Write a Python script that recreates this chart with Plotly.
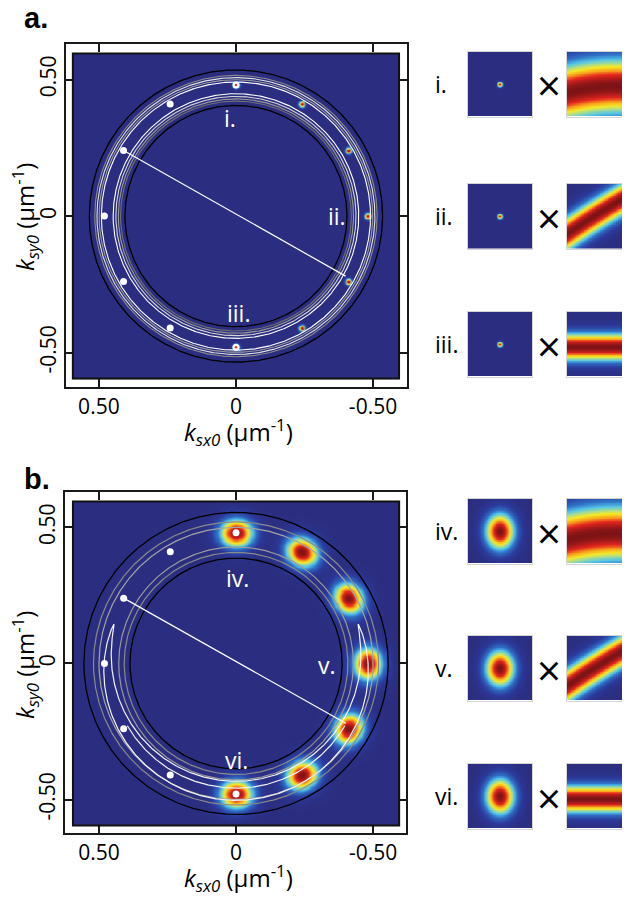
import numpy as np
import plotly.graph_objects as go

W, H = 630, 897
OX, OY = 8, 8          # page body offset of the plot div
def fx(p): return (p - OX) / W
def fy(p): return 1 - (p - OY) / H

FONT = "Open Sans"

# ---------------- data ----------------
tick_vals = [0.5, 0.0, -0.5]
tick_text = ["0.50", "0", "-0.50"]

# white marker positions (k_sx0, k_sy0) in um^-1
dots_x = [0.0, 0.24, 0.41, 0.48, 0.41, 0.24, 0.0]
dots_y = [0.48, 0.41, 0.24, 0.0, -0.24, -0.41, -0.48]
# intensity spot positions
spots_x = [0.0, -0.24, -0.41, -0.48, -0.41, -0.24, 0.0]
spots_y = [0.48, 0.41, 0.24, 0.0, -0.24, -0.41, -0.48]
# chord between markers
chord_x = [0.41, -0.40]
chord_y = [0.24, -0.22]

# ring radii (um^-1)
a_black_r = [0.405, 0.535]
a_ring_r = [0.421, 0.429, 0.438, 0.448, 0.491, 0.499, 0.507, 0.515]
a_ring_c = ["#707070", "#9a9a9a", "#d6d6d6", "#ffffff", "#ffffff", "#9a9a9a", "#e0e0e0", "#8a8a8a"]
b_black_r = [0.387, 0.555]
b_ring_r = [0.408, 0.428, 0.500, 0.520]
b_ring_c = ["#8a8a8a", "#9a9a9a", "#a4a4a4", "#8a8a8a"]

# spot widths
a_spot_sigma = 0.0078
b_spot_sig_rad = 0.037
b_spot_sig_tan = 0.043

# white crescent contour in panel b
cres_theta = [18, -198]
cres_rc = 0.468
cres_hw = 0.035
arc_theta = [-30, -150]
arc_r = 0.458

# in-panel labels
a_lab = ["i.", "ii.", "iii."]
a_lab_x = [0.02, -0.37, -0.01]
a_lab_y = [0.36, 0.0, -0.355]
b_lab = ["iv.", "v.", "vi."]
b_lab_x = [-0.006, -0.33, 0.0]
b_lab_y = [0.313, -0.005, -0.355]

# thumbnails
thumb_lab = ["i.", "ii.", "iii.", "iv.", "v.", "vi."]
thumb_top = [52, 184, 312, 499, 636, 764]
thumb_spot_sx = [0.026, 0.026, 0.026, 0.16, 0.16, 0.16]
thumb_spot_sy = [0.026, 0.026, 0.026, 0.20, 0.20, 0.20]
band_angle = [5, 32, 0, 5, 32, 0]
band_off = [-0.04, 0.05, -0.04, -0.04, 0.05, -0.04]
band_sigma = [0.30, 0.16, 0.15, 0.30, 0.16, 0.15]
band_curv = [0.15, 0.04, 0.0, 0.15, 0.04, 0.0]

# ---------------- colours ----------------
NAVY = "#2b2e80"
cscale = [[0.0, NAVY], [0.1, "#2b3a9c"], [0.25, "#2f70c6"], [0.38, "#52c4e8"],
          [0.5, "#aede8a"], [0.6, "#f6e826"], [0.72, "#f7a01b"], [0.84, "#e4251f"],
          [1.0, "#7d1315"]]

fig = go.Figure()

# ---------------- main heatmaps ----------------
ext = 0.595
Na = 420
ga = np.linspace(-ext, ext, Na)
Xa, Ya = np.meshgrid(ga, ga)
za = np.zeros_like(Xa)
for sx, sy in zip(spots_x, spots_y):
    za += np.exp(-((Xa - sx) ** 2 + (Ya - sy) ** 2) / (2 * a_spot_sigma ** 2))
za = np.clip(za, 0, 1).astype(np.float32)

Nb = 300
gb = np.linspace(-ext, ext, Nb)
Xb, Yb = np.meshgrid(gb, gb)
zb = np.zeros_like(Xb)
for sx, sy in zip(spots_x, spots_y):
    r = np.hypot(sx, sy)
    ex, ey = sx / r, sy / r
    dr = (Xb - sx) * ex + (Yb - sy) * ey
    dt = -(Xb - sx) * ey + (Yb - sy) * ex
    zb += np.exp(-(dr ** 2 / (2 * b_spot_sig_rad ** 2) + dt ** 2 / (2 * b_spot_sig_tan ** 2)))
zb = np.clip(zb, 0, 1).astype(np.float32)

fig.add_trace(go.Heatmap(x=ga, y=ga, z=za, colorscale=cscale, zmin=0, zmax=1,
                         showscale=False, zsmooth="best", xaxis="x", yaxis="y", hoverinfo="skip"))
fig.add_trace(go.Heatmap(x=gb, y=gb, z=zb, colorscale=cscale, zmin=0, zmax=1,
                         showscale=False, zsmooth="best", xaxis="x2", yaxis="y2", hoverinfo="skip"))

th = np.linspace(0, 2 * np.pi, 721)

def ring(r, color, width, xa, ya):
    fig.add_trace(go.Scatter(x=r * np.cos(th), y=r * np.sin(th), mode="lines",
                             line=dict(color=color, width=width), xaxis=xa, yaxis=ya,
                             hoverinfo="skip", showlegend=False))

for r, c in zip(a_ring_r, a_ring_c):
    ring(r, c, 1.1, "x", "y")
for r in a_black_r:
    ring(r, "#000000", 1.3, "x", "y")
for r, c in zip(b_ring_r, b_ring_c):
    ring(r, c, 1.2, "x2", "y2")
for r in b_black_r:
    ring(r, "#000000", 1.3, "x2", "y2")

# crescent in b
t = np.linspace(0, 1, 400)
thc = np.deg2rad(cres_theta[0] + (cres_theta[1] - cres_theta[0]) * t)
hw = cres_hw * np.sin(np.pi * t) ** 0.7
ro = cres_rc + hw
ri = cres_rc - hw
cx = np.concatenate([ro * np.cos(thc), (ri * np.cos(thc))[::-1]])
cy = np.concatenate([ro * np.sin(thc), (ri * np.sin(thc))[::-1]])
fig.add_trace(go.Scatter(x=cx, y=cy, mode="lines", line=dict(color="#f4f4f4", width=1.2),
                         xaxis="x2", yaxis="y2", hoverinfo="skip", showlegend=False))
tha = np.deg2rad(np.linspace(arc_theta[0], arc_theta[1], 200))
fig.add_trace(go.Scatter(x=arc_r * np.cos(tha), y=arc_r * np.sin(tha), mode="lines",
                         line=dict(color="#f4f4f4", width=1.2),
                         xaxis="x2", yaxis="y2", hoverinfo="skip", showlegend=False))

for xa, ya in (("x", "y"), ("x2", "y2")):
    fig.add_trace(go.Scatter(x=chord_x, y=chord_y, mode="lines", line=dict(color="white", width=1.2),
                             xaxis=xa, yaxis=ya, hoverinfo="skip", showlegend=False))
    fig.add_trace(go.Scatter(x=dots_x, y=dots_y, mode="markers",
                             marker=dict(color="white", size=7, line=dict(width=0)),
                             xaxis=xa, yaxis=ya, hoverinfo="skip", showlegend=False))
# red centres on the white top/bottom markers of panel a
fig.add_trace(go.Scatter(x=[dots_x[0], dots_x[-1]], y=[dots_y[0], dots_y[-1]], mode="markers",
                         marker=dict(color="#e0401c", size=2.5, line=dict(width=0)),
                         xaxis="x", yaxis="y", hoverinfo="skip", showlegend=False))

# ---------------- thumbnails ----------------
Nt = 90
gt = np.linspace(-0.5, 0.5, Nt)
U, V = np.meshgrid(gt, gt)
axes_layout = {}
annotations = []
for i in range(6):
    top = thumb_top[i]
    bot = top + 64.5
    zs = np.exp(-(U ** 2 / (2 * thumb_spot_sx[i] ** 2) + V ** 2 / (2 * thumb_spot_sy[i] ** 2)))
    al = np.deg2rad(band_angle[i])
    up = U * np.cos(al) + V * np.sin(al)
    vp = -U * np.sin(al) + V * np.cos(al)
    d = vp - band_off[i] + band_curv[i] * up ** 2
    zband = np.exp(-d ** 2 / (2 * band_sigma[i] ** 2))
    for j, (z, x0, x1, rng) in enumerate(((zs, 467.5, 532, [-0.5, 0.5]),
                                          (zband, 567, 630, [-0.5, 0.477]))):
        n = 3 + 2 * i + j
        xa, ya = f"x{n}", f"y{n}"
        fig.add_trace(go.Heatmap(x=gt, y=gt, z=z.astype(np.float32), colorscale=cscale, zmin=0, zmax=1,
                                 showscale=False, zsmooth="best", xaxis=xa, yaxis=ya, hoverinfo="skip"))
        common = dict(showgrid=False, zeroline=False, showticklabels=False, ticks="",
                      showline=True, mirror=True, linecolor="#d4d4d4", linewidth=1, fixedrange=True)
        axes_layout[f"xaxis{n}"] = dict(domain=[fx(x0), fx(x1)], range=rng, anchor=ya, **common)
        axes_layout[f"yaxis{n}"] = dict(domain=[fy(bot), fy(top)], range=[-0.5, 0.5], anchor=xa, **common)
    cyy = top + 32
    annotations.append(dict(text=thumb_lab[i], x=fx(433), y=fy(cyy), xref="paper", yref="paper",
                            xanchor="left", yanchor="middle", showarrow=False,
                            font=dict(family=FONT, size=23, color="black")))
    annotations.append(dict(text="×", x=fx(548.5), y=fy(cyy + 1), xref="paper", yref="paper",
                            xanchor="center", yanchor="middle", showarrow=False,
                            font=dict(family=FONT, size=42, color="black")))

# in-panel labels
for labs, lx, ly, xr, yr in ((a_lab, a_lab_x, a_lab_y, "x", "y"), (b_lab, b_lab_x, b_lab_y, "x2", "y2")):
    for s, x, y in zip(labs, lx, ly):
        annotations.append(dict(text=s, x=x, y=y, xref=xr, yref=yr, showarrow=False,
                                xanchor="center", yanchor="middle",
                                font=dict(family=FONT, size=23, color="white")))

# panel letters
annotations.append(dict(text="<b>a.</b>", x=fx(22), y=fy(18), xref="paper", yref="paper",
                        xanchor="left", yanchor="middle", showarrow=False,
                        font=dict(family="Liberation Sans", size=29, color="black")))
annotations.append(dict(text="<b>b.</b>", x=fx(22), y=fy(479), xref="paper", yref="paper",
                        xanchor="left", yanchor="middle", showarrow=False,
                        font=dict(family="Liberation Sans", size=29, color="black")))

# axis titles
xt = "<i>k</i><sub><i>sx0</i></sub> (μm<sup>-1</sup>)"
yt = "<i>k</i><sub><i>sy0</i></sub> (μm<sup>-1</sup>)"
for xc, yc in ((238, 432), (238, 878)):
    annotations.append(dict(text=xt, x=fx(xc), y=fy(yc), xref="paper", yref="paper",
                            xanchor="center", yanchor="middle", showarrow=False,
                            font=dict(family=FONT, size=24, color="black")))
for xc, yc in ((25, 217), (25, 665)):
    annotations.append(dict(text=yt, x=fx(xc), y=fy(yc), xref="paper", yref="paper",
                            xanchor="center", yanchor="middle", showarrow=False, textangle=-90,
                            font=dict(family=FONT, size=24, color="black")))

main_ax = dict(showgrid=False, zeroline=False, showline=True, mirror="ticks", linecolor="#1a1a1a",
               linewidth=1.5, ticks="inside", ticklen=8, tickwidth=1.5, tickcolor="#1a1a1a",
               tickvals=tick_vals, ticktext=tick_text, tickfont=dict(family=FONT, size=21, color="black"),
               fixedrange=True)

shapes = []
for xr, yr in (("x", "y"), ("x2", "y2")):
    shapes.append(dict(type="rect", xref=xr, yref=yr, x0=-ext, x1=ext, y0=-ext, y1=ext,
                       line=dict(color="#111111", width=2), layer="above"))

fig.update_layout(
    width=W, height=H, margin=dict(l=0, r=0, t=0, b=0),
    paper_bgcolor="white", plot_bgcolor="white", showlegend=False,
    xaxis=dict(domain=[fx(66), fx(407)], range=[0.62, -0.624], anchor="y", **main_ax),
    yaxis=dict(domain=[fy(387), fy(44)], range=[-0.626, 0.630], anchor="x", tickangle=-90, **main_ax),
    xaxis2=dict(domain=[fx(65), fx(406)], range=[0.624, -0.620], anchor="y2", **main_ax),
    yaxis2=dict(domain=[fy(833), fy(492)], range=[-0.623, 0.630], anchor="x2", tickangle=-90, **main_ax),
    annotations=annotations, shapes=shapes,
    **axes_layout,
)

fig.write_html("out.html")
